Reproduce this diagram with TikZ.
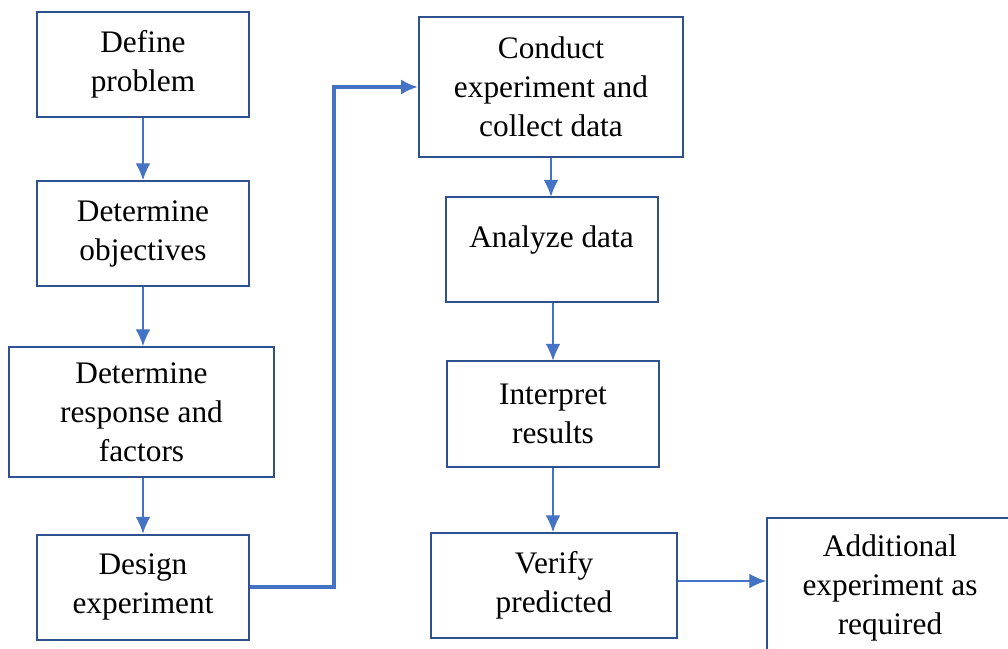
\documentclass[tikz,border=0pt]{standalone}
\usepackage{fontspec}
\setmainfont{Liberation Serif}
\usetikzlibrary{arrows.meta}
\definecolor{mborder}{HTML}{2F528F}
\definecolor{mblue}{HTML}{4472C4}
\tikzset{box/.style = {draw=mborder, line width=1.5pt, align=center,
                       minimum width=159pt, minimum height=78.75pt, inner sep=2pt,
                       font=\fontsize{23.5}{29.3}\selectfont},
         flow/.style = {draw=mblue, line width=0.9pt, -{Latex[length=12.5pt,width=11pt]}},
         bigflow/.style = {draw=mblue, line width=3pt, -{Latex[length=12.75pt,width=11.5pt]}}}

\begin{document}
\begin{tikzpicture}[x=0.75pt, y=-0.75pt]
    \useasboundingbox (0, 0) rectangle (1008, 649);
    \fill [white] (0, 0) rectangle (1008, 649);
    \clip (0, 0) rectangle (1008, 649);

    % left column
    \node [box] (define) at (143, 64.5) {Define\\problem};
    \node [box] (objectives) at (143, 233.5) {Determine\\objectives};
    \node [box, minimum width=198.75pt, minimum height=97.5pt] (response) at (141.5, 412) {Determine\\response and\\factors};
    \node [box] (design) at (143, 587) {Design\\experiment};

    % right column
    \node [box, minimum width=198pt, minimum height=105pt] (conduct) at (551, 87) {Conduct\\experiment and\\collect data};
    \node [box, text depth=20pt] (analyze) at (551.5, 250) {Analyze data};
    \node [box] (interpret) at (553, 414) {Interpret\\results};
    \node [box, minimum width=184.5pt] (verify) at (554, 585.5) {Verify\\predicted};
    \node [box, minimum width=184.5pt, minimum height=105pt] (additional) at (890, 588) {Additional\\experiment as\\required};

    \draw [flow] (define) -- (objectives);
    \draw [flow] (objectives.south) -- (objectives.south |- response.north);
    \draw [flow] (response.south -| design.north) -- (design.north);

    \draw [bigflow] (design.east) -- ++(84, 0) |- (conduct.west);

    \draw [flow] (conduct) -- (conduct |- analyze.north);
    \draw [flow] (analyze.south) -- (analyze.south -| interpret.north) -- (interpret.north);
    \draw [flow] (interpret) -- (interpret |- verify.north);
    \draw [flow] (verify.east |- 0, 581) -- (additional.west |- 0, 581);
  \end{tikzpicture}
\end{document}
